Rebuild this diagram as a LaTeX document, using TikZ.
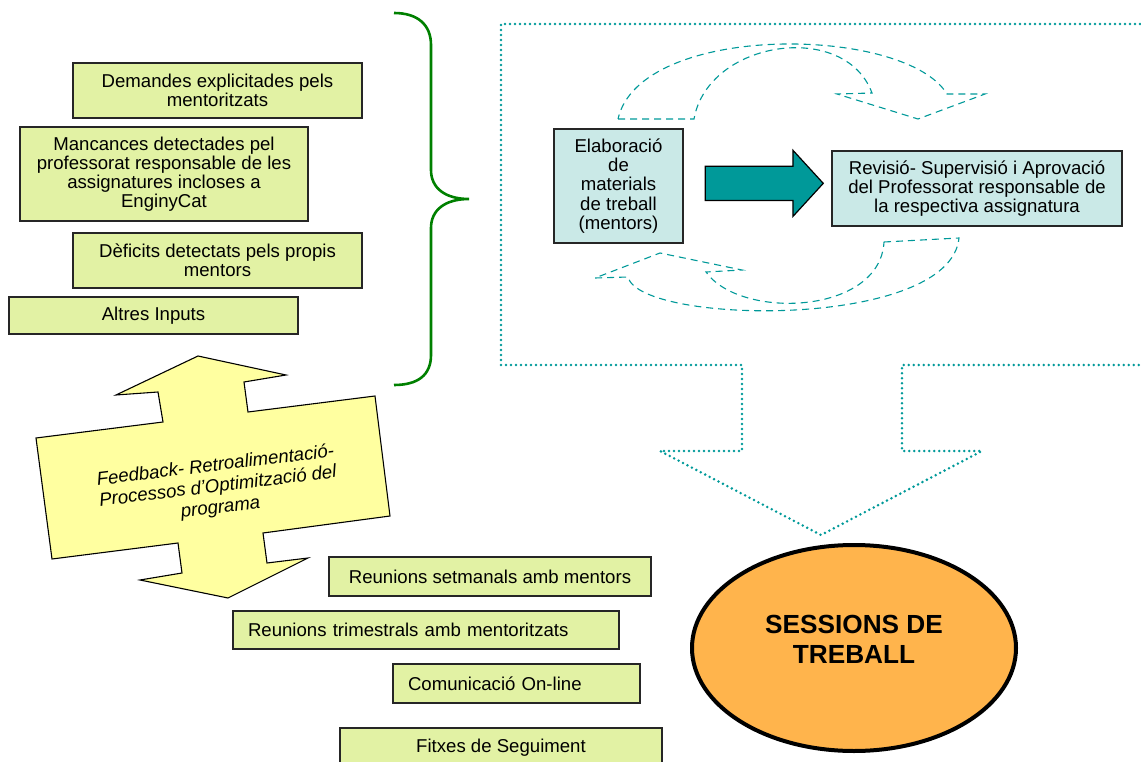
\documentclass[tikz,border=0pt]{standalone}
\usepackage{fontspec}
\setmainfont{Liberation Sans}
\usetikzlibrary{calc,shapes.geometric,shapes.arrows}
\definecolor{boxgreen}{RGB}{226,242,164}
\definecolor{boxteal}{RGB}{202,233,231}
\definecolor{tealdark}{RGB}{0,153,153}
\definecolor{bracegreen}{RGB}{0,128,0}
\definecolor{fbyellow}{RGB}{255,255,160}
\definecolor{sessorange}{RGB}{255,180,76}
\newcommand{\boxfont}{\fontsize{18.6}{19.2}\selectfont}
\newcommand{\sessfont}{\fontsize{26.2}{30}\selectfont\bfseries}
\tikzset{
  inbox/.style={draw=black!85, line width=1.2pt, fill=boxgreen, inner sep=0pt, align=center, font=\boxfont},
  workbox/.style={draw=black!85, line width=1.4pt, fill=boxteal, inner sep=0pt, align=center, font=\boxfont},
  cyclearrow/.style={draw=tealdark, line width=1.1pt, dash pattern=on 7pt off 5pt},
  dotframe/.style={draw=tealdark, line width=2.8pt, dash pattern=on 0pt off 5pt, line cap=round}
}
\begin{document}
\begin{tikzpicture}[x=1pt,y=-1pt]
\useasboundingbox (0,0) rectangle (1141,762);

\draw[bracegreen, line width=2.6pt] (394,13) .. controls (418,13) and (431,25) .. (431,45) -- (431,170)
  .. controls (431,188) and (445,199) .. (469,199) .. controls (445,199) and (431,210) .. (431,228)
  -- (431,355) .. controls (431,375) and (418,385) .. (394,385);

\node[inbox, minimum width=289pt, minimum height=55pt] (demandes) at (217.5,90.5) {Demandes explicitades pels\\mentoritzats};
\node[inbox, minimum width=288pt, minimum height=94pt] (mancances) at (164,174) {Mancances detectades pel\\professorat responsable de les\\assignatures incloses a\\EnginyCat};
\node[inbox, minimum width=289pt, minimum height=55pt] (deficits) at (217.5,260.5) {Dèficits detectats pels propis\\mentors};
\node[inbox, minimum width=289pt, minimum height=37pt] (altres) at (153.5,315.5) {Altres Inputs};

\draw[dotframe] (1160,24) -- (501,24) -- (501,365) -- (742,365) -- (742,451) -- (660,451) -- (821,535)
  -- (982,451) -- (902,451) -- (902,365) -- (1160,365);

\draw[cyclearrow] (618,119) -- (694,119) .. controls (708,40) and (845,20) .. (872,93) -- (837,94)
  -- (918,119) -- (985,94) -- (947,94) .. controls (905,25) and (640,22) .. (618,119) -- cycle;
\draw[cyclearrow] (884,242) -- (959,238) .. controls (950,330) and (640,325) .. (628,277) -- (595,278)
  -- (660,253) -- (742,270) -- (706,272) .. controls (740,320) and (880,315) .. (884,242) -- cycle;

\node[workbox, minimum width=129pt, minimum height=114pt] (elaboracio) at (618.5,186) {Elaboració\\de\\materials\\de treball\\(mentors)};
\node[workbox, minimum width=290pt, minimum height=75pt] (revisio) at (977,188.5) {Revisió- Supervisió i Aprovació\\del Professorat responsable de\\la respectiva assignatura};
\node[single arrow, draw=black, line width=1.2pt, fill=tealdark, inner xsep=0pt, inner ysep=16.5pt,
  minimum height=118pt, single arrow head extend=16pt, single arrow tip angle=95, anchor=tail]
  (pas) at ($(elaboracio.east)!0.142!(revisio.west)+(0,-3)$) {};

\draw[black, line width=1.1pt, fill=fbyellow] (198,356) -- (286,375) -- (244,382) -- (248,412) -- (375,396)
  -- (390,516) -- (263,533) -- (267,563) -- (308,558) -- (228,598) -- (140,580) -- (182,573)
  -- (178,543) -- (52,559) -- (36,438) -- (163,422) -- (158,392) -- (116,395) -- cycle;
\node[font=\fontsize{18.6}{21}\selectfont\itshape, align=center, rotate=7, inner sep=0pt] (feedback) at (218,487)
  {Feedback- Retroalimentació-\\Processos d’Optimització del\\programa};

\node[inbox, minimum width=322pt, minimum height=39pt] (setmanals) at (490,576.5) {Reunions setmanals amb mentors};
\node[inbox, text width=356pt, inner xsep=15pt, minimum height=38pt, align=left] (trimestrals) at (426,630) {Reunions trimestrals amb mentoritzats};
\node[inbox, text width=217pt, inner xsep=15pt, minimum height=39pt, align=left] (online) at (516.5,683.5) {Comunicació On-line};
\node[inbox, minimum width=322pt, minimum height=39pt] (fitxes) at (501,747.5) {Fitxes de Seguiment};

\node[ellipse, draw=black, line width=4pt, fill=sessorange, minimum width=324pt, minimum height=206pt,
  align=center, font=\sessfont, text depth=18pt] (sessions) at (854,648) {SESSIONS DE\\TREBALL};
\end{tikzpicture}
\end{document}
